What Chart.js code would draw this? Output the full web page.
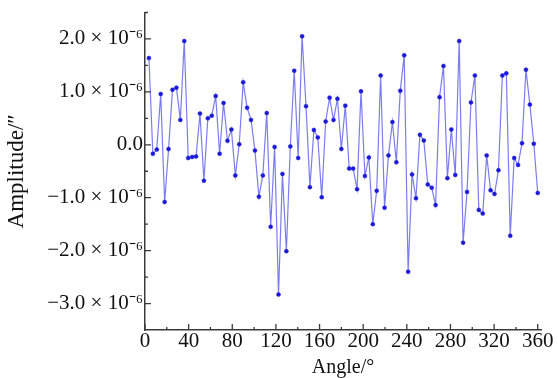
<!DOCTYPE html>
<html><head><meta charset="utf-8">
<script src="https://cdn.jsdelivr.net/npm/chart.js@4"></script>
<style>html,body{margin:0;padding:0;background:#fff;overflow:hidden}</style>
</head><body>
<canvas id="c" width="558" height="378"></canvas>
<script>
const angles = [3.6, 7.2, 10.8, 14.4, 18, 21.6, 25.2, 28.8, 32.4, 36,
  39.6, 43.2, 46.8, 50.4, 54, 57.6, 61.2, 64.8, 68.4, 72,
  75.6, 79.2, 82.8, 86.4, 90, 93.6, 97.2, 100.8, 104.4, 108,
  111.6, 115.2, 118.8, 122.4, 126, 129.6, 133.2, 136.8, 140.4, 144,
  147.6, 151.2, 154.8, 158.4, 162, 165.6, 169.2, 172.8, 176.4, 180,
  183.6, 187.2, 190.8, 194.4, 198, 201.6, 205.2, 208.8, 212.4, 216,
  219.6, 223.2, 226.8, 230.4, 234, 237.6, 241.2, 244.8, 248.4, 252,
  255.6, 259.2, 262.8, 266.4, 270, 273.6, 277.2, 280.8, 284.4, 288,
  291.6, 295.2, 298.8, 302.4, 306, 309.6, 313.2, 316.8, 320.4, 324,
  327.6, 331.2, 334.8, 338.4, 342, 345.6, 349.2, 352.8, 356.4, 360];
const amplitude = [1.64e-6, -0.17e-6, -0.09e-6, 0.96e-6, -1.08e-6, -0.08e-6, 1.04e-6, 1.08e-6, 0.47e-6, 1.96e-6,
  -0.25e-6, -0.23e-6, -0.22e-6, 0.59e-6, -0.68e-6, 0.50e-6, 0.55e-6, 0.92e-6, -0.17e-6, 0.79e-6,
  0.075e-6, 0.29e-6, -0.58e-6, 0.01e-6, 1.18e-6, 0.70e-6, 0.47e-6, -0.11e-6, -0.98e-6, -0.58e-6,
  0.60e-6, -1.55e-6, -0.04e-6, -2.83e-6, -0.55e-6, -2.01e-6, -0.03e-6, 1.40e-6, -0.25e-6, 2.05e-6,
  0.73e-6, -0.80e-6, 0.28e-6, 0.14e-6, -0.99e-6, 0.44e-6, 0.89e-6, 0.47e-6, 0.87e-6, -0.08e-6,
  0.74e-6, -0.45e-6, -0.45e-6, -0.84e-6, 1.01e-6, -0.59e-6, -0.24e-6, -1.50e-6, -0.87e-6, 1.31e-6,
  -1.19e-6, -0.20e-6, 0.43e-6, -0.33e-6, 1.02e-6, 1.69e-6, -2.40e-6, -0.56e-6, -1.01e-6, 0.19e-6,
  0.08e-6, -0.75e-6, -0.81e-6, -1.14e-6, 0.90e-6, 1.49e-6, -0.63e-6, 0.29e-6, -0.57e-6, 1.96e-6,
  -1.85e-6, -0.89e-6, 0.80e-6, 1.31e-6, -1.23e-6, -1.30e-6, -0.20e-6, -0.86e-6, -0.93e-6, -0.48e-6,
  1.31e-6, 1.35e-6, -1.72e-6, -0.25e-6, -0.38e-6, 0.03e-6, 1.42e-6, 0.76e-6, 0.02e-6, -0.91e-6];
const xTicks = [0, 40, 80, 120, 160, 200, 240, 280, 320, 360];
const xMinorTicks = [20, 60, 100, 140, 180, 220, 260, 300, 340];
const yTicks = [-3e-6, -2e-6, -1e-6, 0, 1e-6, 2e-6];
const yMinorTicks = [-2.5e-6, -1.5e-6, -0.5e-6, 0.5e-6, 1.5e-6, 2.5e-6];
const xTitle = 'Angle/°';
const yTitle = 'Amplitude/″';

function fmtY(v) {
  const m = Math.round(v * 1e7) / 10;
  if (m === 0) return '0.0';
  return (m < 0 ? '\u2212' : '') + Math.abs(m).toFixed(1) + ' × 10\u207B\u2076';
}

const innerTicks = {
  id: 'innerTicks',
  afterDraw(chart) {
    const ctx = chart.ctx, xs = chart.scales.x, ys = chart.scales.y;
    const a = chart.chartArea;
    ctx.save();
    ctx.strokeStyle = '#3a3a3a';
    ctx.lineWidth = 1.3;
    ctx.beginPath();
    xTicks.forEach(v => { const p = xs.getPixelForValue(v); ctx.moveTo(p, a.bottom); ctx.lineTo(p, a.bottom - 6); });
    xMinorTicks.forEach(v => { const p = xs.getPixelForValue(v); ctx.moveTo(p, a.bottom); ctx.lineTo(p, a.bottom - 3); });
    yTicks.forEach(v => { const p = ys.getPixelForValue(v); ctx.moveTo(a.left, p); ctx.lineTo(a.left + 6, p); });
    yMinorTicks.forEach(v => { const p = ys.getPixelForValue(v); ctx.moveTo(a.left, p); ctx.lineTo(a.left + 3, p); });
    ctx.stroke();
    ctx.restore();
  }
};

new Chart(document.getElementById('c'), {
  type: 'line',
  data: {
    datasets: [{
      data: angles.map((a, i) => ({x: a, y: amplitude[i]})),
      borderColor: 'rgba(110,110,240,0.9)',
      borderWidth: 1.2,
      pointBackgroundColor: '#1a1ad8',
      pointBorderColor: '#1a1ad8',
      pointRadius: 2,
      pointBorderWidth: 0.5,
      tension: 0,
      clip: false
    }]
  },
  options: {
    responsive: false,
    animation: false,
    events: [],
    layout: {padding: {left: 0, right: 17, top: 10, bottom: 0}},
    plugins: {legend: {display: false}, tooltip: {enabled: false}},
    scales: {
      x: {
        type: 'linear', min: 0, max: 363,
        afterBuildTicks: s => { s.ticks = xTicks.map(v => ({value: v})); },
        afterFit: s => { s.height = 48; },
        grid: {display: false, drawTicks: false},
        border: {display: true, color: '#3a3a3a', width: 1.5},
        ticks: {color: '#111', padding: 1, maxRotation: 0, autoSkip: false,
          font: {family: 'Liberation Serif', size: 21, lineHeight: 1},
          callback: v => String(v)},
        title: {display: true, text: xTitle, color: '#111', padding: {top: 0, bottom: 0},
          font: {family: 'Liberation Serif', size: 20, lineHeight: 1}}
      },
      y: {
        type: 'linear', min: -3.5e-6, max: 2.5e-6,
        afterBuildTicks: s => { s.ticks = yTicks.map(v => ({value: v})); },
        afterFit: s => { s.width = 145; },
        grid: {display: false, drawTicks: false},
        border: {display: true, color: '#3a3a3a', width: 1.5},
        ticks: {color: '#111', padding: 2, autoSkip: false,
          font: {family: 'Liberation Serif', size: 21, lineHeight: 1},
          callback: v => fmtY(v)},
        title: {display: true, text: yTitle, color: '#111', padding: {top: 4, bottom: 4},
          font: {family: 'Liberation Serif', size: 23, lineHeight: 1.1}}
      }
    }
  },
  plugins: [innerTicks]
});
</script>
</body></html>
